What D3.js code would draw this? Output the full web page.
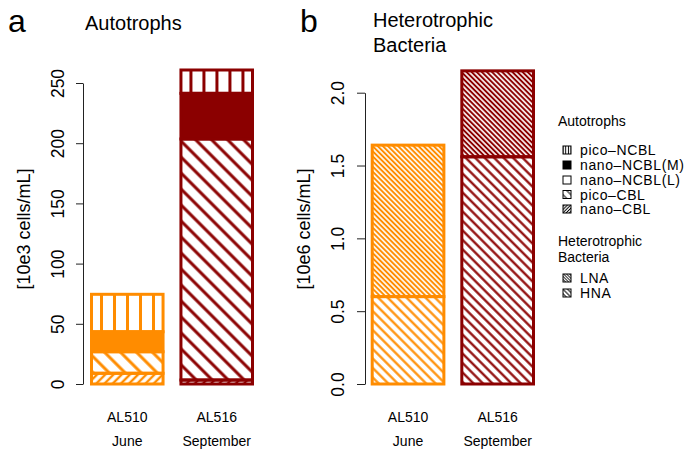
<!DOCTYPE html>
<html><head><meta charset="utf-8">
<script src="https://cdn.jsdelivr.net/npm/d3@7"></script>
<style>
html,body{margin:0;padding:0;background:#fff;}
svg{display:block;font-family:"Liberation Sans",Arial,Helvetica,sans-serif;}
</style></head>
<body><svg id="chart" width="687" height="450"></svg>
<script>
// ---------- data ----------
const cruises = ["AL510", "AL516"];
const months = ["June", "September"];
const barColors = ["#FF8C00", "#8B0000"];
// Autotrophs [10e3 cells/mL]
const picoNCBL  = [31.1, 19.4];
const nanoNCBL_M = [16.6, 37.9];
const nanoNCBL_L = [0, 0];
const picoCBL   = [17.9, 200.2];
const nanoCBL   = [8.9, 3.3];
// Heterotrophic bacteria [10e6 cells/mL]
const HNA = [0.60, 1.56];
const LNA = [1.04, 0.59];
// ticks
const ticksA = [0, 50, 100, 150, 200, 250];
const ticksB = [0, 0.5, 1.0, 1.5, 2.0];
const autoLegend = ["pico–NCBL", "nano–NCBL(M)", "nano–NCBL(L)", "pico–CBL", "nano–CBL"];
const bactLegend = ["LNA", "HNA"];

// ---------- setup ----------
const svg = d3.select("#chart");
const defs = svg.append("defs");

function hatch(id, color, angle, period, sw, x0) {
  const p = defs.append("pattern").attr("id", id)
    .attr("patternUnits", "userSpaceOnUse")
    .attr("width", period).attr("height", period)
    .attr("x", x0 || 0).attr("y", 0)
    .attr("patternTransform", `rotate(${angle})`);
  p.append("line").attr("x1", period / 2).attr("x2", period / 2)
    .attr("y1", -1).attr("y2", period + 1)
    .attr("stroke", color).attr("stroke-width", sw);
}

// ---------- panel a ----------
const xA = d3.scaleBand().domain(cruises).range([91.5, 252.5]).paddingInner(0.2).paddingOuter(0);
const yA = d3.scaleLinear().domain([0, 250]).range([384, 83]);

const autoRows = cruises.map((c, i) => ({
  cruise: c, i,
  nanoCBL: nanoCBL[i], picoCBL: picoCBL[i], nanoNCBL_L: nanoNCBL_L[i],
  nanoNCBL_M: nanoNCBL_M[i], picoNCBL: picoNCBL[i]
}));
const autoKeys = ["nanoCBL", "picoCBL", "nanoNCBL_L", "nanoNCBL_M", "picoNCBL"];
const autoStack = d3.stack().keys(autoKeys)(autoRows);

cruises.forEach((c, i) => {
  const col = barColors[i];
  hatch(`vl-${i}`, col, 0, 13, 3, xA(c) + 3.5);
  hatch(`bs-${i}`, col, -45, 11.3, 3, 0);
  hatch(`fs-${i}`, col, 45, 5.8, 2.4, 0);
});
function autoFill(key, i) {
  if (key === "nanoCBL") return `url(#fs-${i})`;
  if (key === "picoCBL") return `url(#bs-${i})`;
  if (key === "nanoNCBL_L") return "none";
  if (key === "nanoNCBL_M") return barColors[i];
  return `url(#vl-${i})`;
}
const gA = svg.append("g");
autoStack.forEach(layer => {
  gA.selectAll(null).data(layer).enter().append("rect")
    .attr("x", d => xA(d.data.cruise))
    .attr("width", xA.bandwidth())
    .attr("y", d => yA(d[1]))
    .attr("height", d => Math.max(0, yA(d[0]) - yA(d[1])))
    .attr("fill", d => autoFill(layer.key, d.data.i))
    .attr("stroke", d => barColors[d.data.i])
    .attr("stroke-width", 3);
});

function styleAxis(g, off) {
  g.select(".domain").attr("stroke", "#222").attr("stroke-width", 1);
  g.selectAll(".tick line").attr("stroke", "#222").attr("stroke-width", 1);
  g.selectAll(".tick text")
    .attr("x", 0).attr("dy", 0)
    .attr("transform", `translate(${-off},0) rotate(-90)`)
    .attr("text-anchor", "middle")
    .attr("fill", "#000")
    .style("font-size", "17.5px")
    .style("font-family", "'Liberation Sans',Arial,sans-serif");
}
const axA = svg.append("g").attr("transform", "translate(83,0)")
  .call(d3.axisLeft(yA).tickValues(ticksA).tickSize(7).tickSizeOuter(0).tickFormat(d3.format("d")));
styleAxis(axA, 19);

// ---------- panel b ----------
const xB = d3.scaleBand().domain(cruises).range([372.2, 533.5]).paddingInner(0.2).paddingOuter(0);
const yB = d3.scaleLinear().domain([0, 2]).range([384, 92.7]);
const bactRows = cruises.map((c, i) => ({ cruise: c, i, HNA: HNA[i], LNA: LNA[i] }));
const bactStack = d3.stack().keys(["HNA", "LNA"])(bactRows);
cruises.forEach((c, i) => {
  hatch(`hna-${i}`, barColors[i], -45, 6.7, 2.2, 0);
  hatch(`lna-${i}`, barColors[i], -45, 3.6, 2.0, 0);
});
const gB = svg.append("g");
bactStack.forEach(layer => {
  gB.selectAll(null).data(layer).enter().append("rect")
    .attr("x", d => xB(d.data.cruise))
    .attr("width", xB.bandwidth())
    .attr("y", d => yB(d[1]))
    .attr("height", d => yB(d[0]) - yB(d[1]))
    .attr("fill", d => layer.key === "HNA" ? `url(#hna-${d.data.i})` : `url(#lna-${d.data.i})`)
    .attr("stroke", d => barColors[d.data.i])
    .attr("stroke-width", 3);
});
const axB = svg.append("g").attr("transform", "translate(365,0)")
  .call(d3.axisLeft(yB).tickValues(ticksB).tickSize(8).tickSizeOuter(0).tickFormat(d3.format(".1f")));
styleAxis(axB, 21);

// ---------- texts ----------
function txt(x, y, s, size, anchor, rot) {
  const t = svg.append("text").attr("font-size", size).attr("fill", "#000")
    .attr("text-anchor", anchor || "start").text(s);
  if (rot) t.attr("transform", `translate(${x},${y}) rotate(${rot})`);
  else t.attr("x", x).attr("y", y);
  return t;
}
txt(8, 32, "a", 32);
txt(85, 30, "Autotrophs", 20);
txt(300, 32, "b", 32);
txt(373, 27, "Heterotrophic", 20);
txt(373, 52, "Bacteria", 20);
txt(30, 229, "[10e3 cells/mL]", 18, "middle", -90);
txt(310, 229, "[10e6 cells/mL]", 18, "middle", -90);

cruises.forEach((c, i) => {
  txt(xA(c) + xA.bandwidth() / 2, 421.5, c, 14, "middle");
  txt(xA(c) + xA.bandwidth() / 2, 446, months[i], 14, "middle");
  txt(xB(c) + xB.bandwidth() / 2, 421.5, c, 14, "middle");
  txt(xB(c) + xB.bandwidth() / 2, 446, months[i], 14, "middle");
});

// ---------- legend ----------
const lgX = 558, icX = 563, icS = 8, tX = 580;
hatch("lg-vl", "#000", 0, 2.7, 1, icX - 1.35);
hatch("lg-bs", "#000", -45, 5.6, 1, 0);
hatch("lg-fs", "#000", 45, 2.3, 1, 0);
hatch("lg-lna", "#000", -45, 2.1, 0.8, 0);
hatch("lg-hna", "#000", -45, 3.2, 1, 0);
const autoIcon = ["url(#lg-vl)", "#000", "#fff", "url(#lg-bs)", "url(#lg-fs)"];
const bactIcon = ["url(#lg-lna)", "url(#lg-hna)"];
txt(lgX, 126, "Autotrophs", 14);
const autoY = [150, 165, 180, 194.5, 209];
autoLegend.forEach((s, k) => {
  svg.append("rect").attr("x", icX).attr("y", autoY[k] - icS / 2).attr("width", icS).attr("height", icS)
    .attr("fill", autoIcon[k]).attr("stroke", "#000").attr("stroke-width", 1);
  txt(tX, autoY[k] + 5, s, 14).attr("letter-spacing", 0.6);
});
txt(lgX, 246, "Heterotrophic", 14);
txt(lgX, 262, "Bacteria", 14);
const bactY = [278, 293];
bactLegend.forEach((s, k) => {
  svg.append("rect").attr("x", icX).attr("y", bactY[k] - icS / 2).attr("width", icS).attr("height", icS)
    .attr("fill", bactIcon[k]).attr("stroke", "#000").attr("stroke-width", 1);
  txt(tX, bactY[k] + 5, s, 14).attr("letter-spacing", 0.6);
});
</script></body></html>
